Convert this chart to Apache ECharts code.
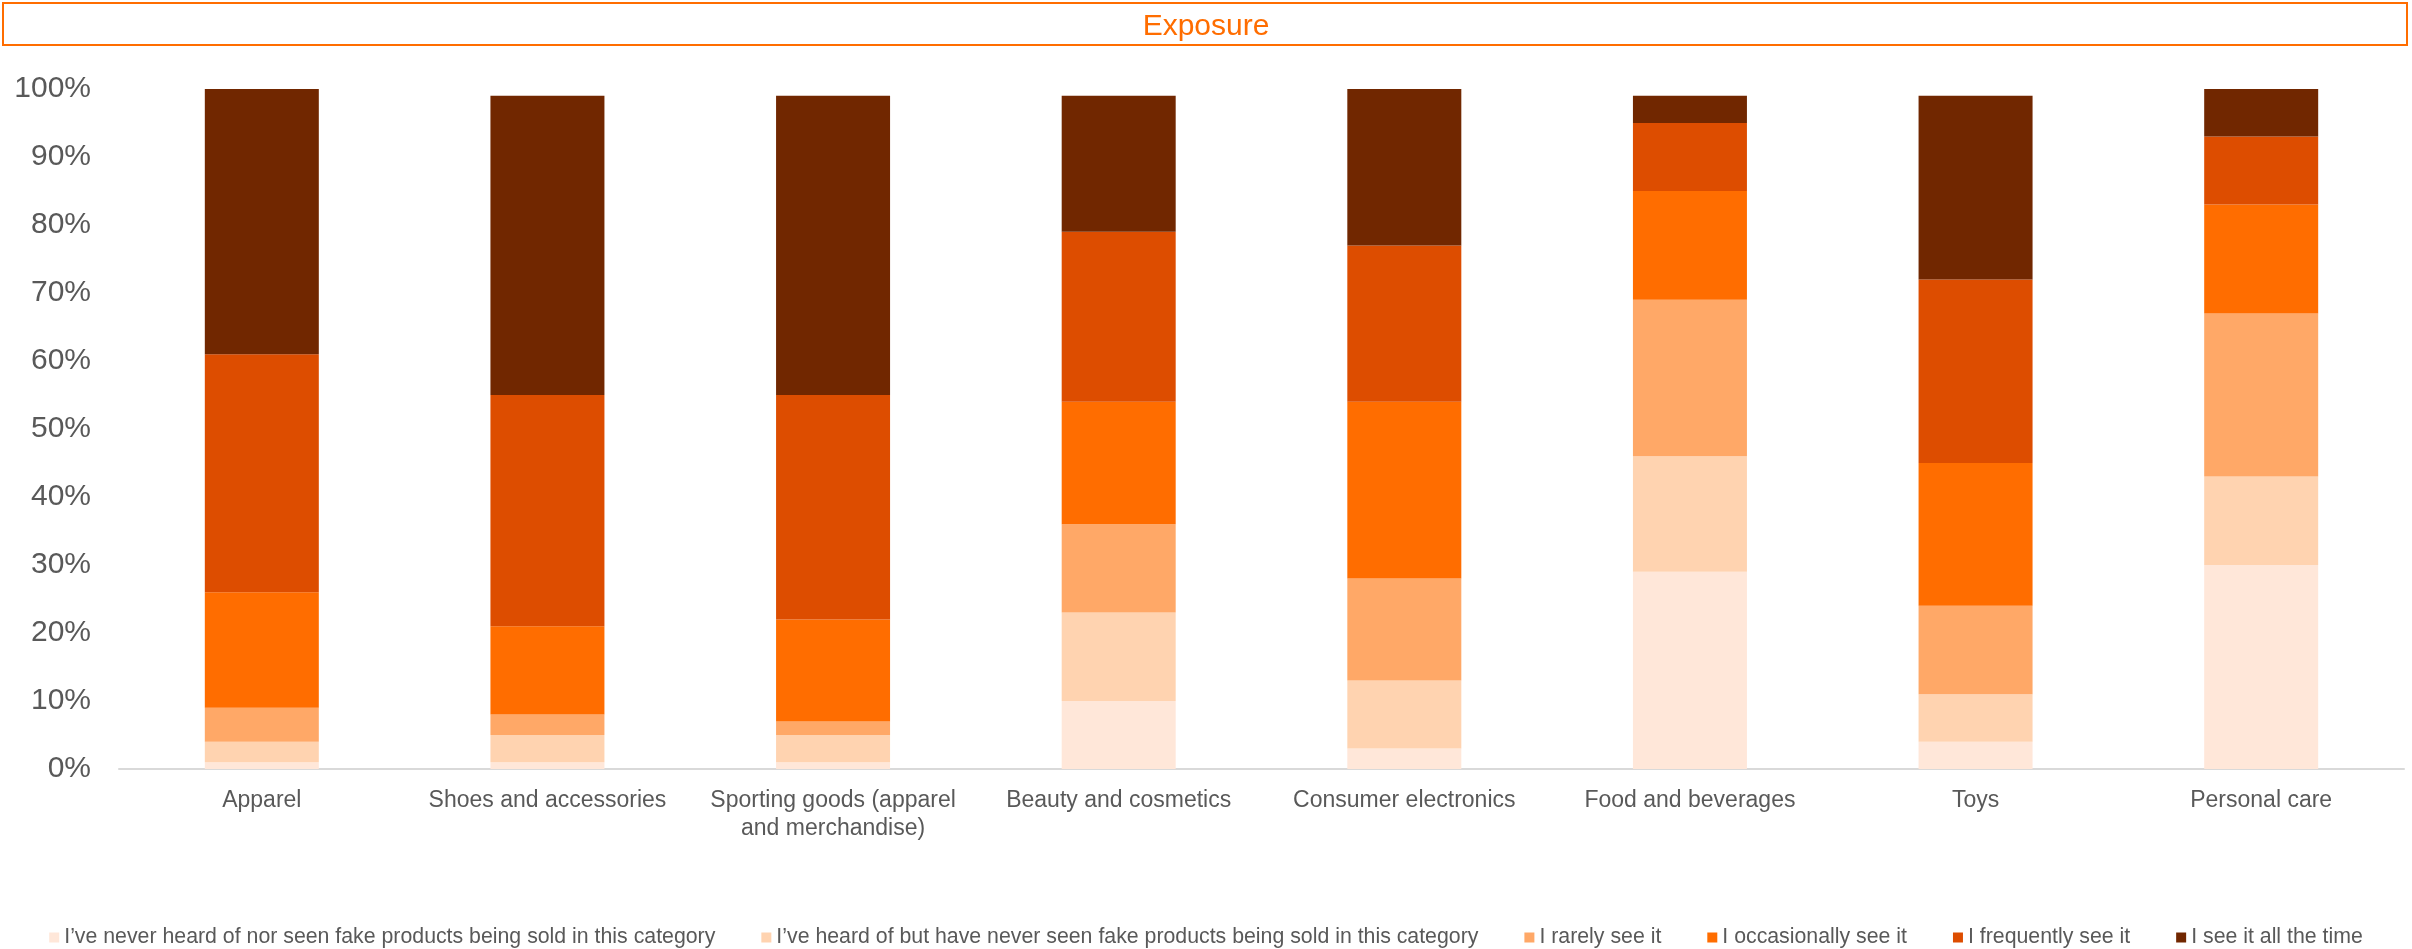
<!DOCTYPE html>
<html>
<head>
<meta charset="utf-8">
<script src="https://cdn.jsdelivr.net/npm/echarts@6/dist/echarts.min.js"></script>
<style>
html,body{margin:0;padding:0;background:#fff;}
#chart{width:2412px;height:949px;}
</style>
</head>
<body>
<div id="chart"></div>
<script>
const categories = ['Apparel', 'Shoes and accessories', 'Sporting goods (apparel\nand merchandise)', 'Beauty and cosmetics', 'Consumer electronics', 'Food and beverages', 'Toys', 'Personal care'];
const seriesNames = [
  'I\u2019ve never heard of nor seen fake products being sold in this category',
  'I\u2019ve heard of but have never seen fake products being sold in this category',
  'I rarely see it',
  'I occasionally see it',
  'I frequently see it',
  'I see it all the time'
];
const neverHeard   = [1, 1, 1, 10, 3, 29, 4, 30];
const heardNotSeen = [3, 4, 4, 13, 10, 17, 7, 13];
const rarely       = [5, 3, 2, 13, 15, 23, 13, 24];
const occasionally = [17, 13, 15, 18, 26, 16, 21, 16];
const frequently   = [35, 34, 33, 25, 23, 10, 27, 10];
const allTheTime   = [39, 44, 44, 20, 23, 4, 27, 7];
const yTicks = [0, 10, 20, 30, 40, 50, 60, 70, 80, 90, 100];

const colors = ['#FFE7D9', '#FFD3B0', '#FFA867', '#FF6D00', '#DD4D00', '#712700'];
const values = [neverHeard, heardNotSeen, rarely, occasionally, frequently, allTheTime];
const FONT = '"Liberation Sans", Arial, sans-serif';

const chart = echarts.init(document.getElementById('chart'), null, {renderer: 'canvas'});
chart.setOption({
  animation: false,
  backgroundColor: '#ffffff',
  color: colors,
  title: {
    text: 'Exposure',
    left: 'center',
    top: 7,
    textStyle: {color: '#FF6D00', fontSize: 30, fontWeight: 'normal', fontFamily: FONT}
  },
  graphic: [{
    type: 'rect',
    shape: {x: 3, y: 3, width: 2404, height: 42},
    style: {fill: 'none', stroke: '#FF6D00', lineWidth: 2},
    silent: true
  }],
  legend: {
    data: seriesNames,
    left: 'center',
    top: 922,
    itemWidth: 10,
    itemHeight: 10,
    itemGap: 46,
    icon: 'rect',
    textStyle: {color: '#595959', fontSize: 21.3, fontFamily: FONT}
  },
  grid: {left: 119, right: 8, top: 89, bottom: 180, containLabel: false},
  xAxis: {
    type: 'category',
    data: categories,
    axisLine: {lineStyle: {color: '#D9D9D9', width: 2}},
    axisTick: {show: false},
    axisLabel: {interval: 0, color: '#595959', fontSize: 23, fontFamily: FONT, margin: 18, lineHeight: 28}
  },
  yAxis: {
    type: 'value',
    min: yTicks[0],
    max: yTicks[yTicks.length - 1],
    interval: 10,
    axisLine: {show: false},
    axisTick: {show: false},
    splitLine: {show: false},
    axisLabel: {formatter: '{value}%', color: '#595959', fontSize: 30, fontFamily: FONT, margin: 28}
  },
  series: seriesNames.map((name, i) => ({
    name: name,
    type: 'bar',
    stack: 'total',
    barWidth: 114,
    data: values[i],
    itemStyle: {color: colors[i]}
  }))
});
</script>
</body>
</html>
